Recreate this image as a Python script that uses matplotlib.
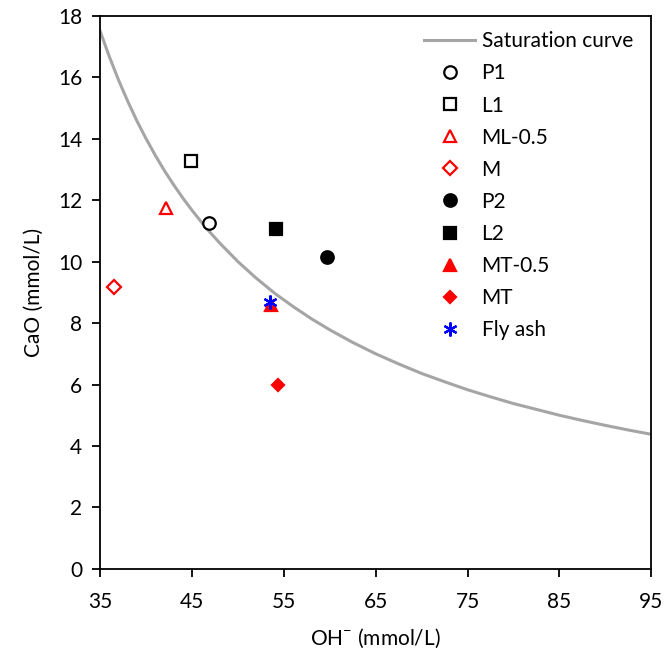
import matplotlib.pyplot as plt
import numpy as np

plt.rcParams['font.family'] = ['Lato', 'DejaVu Sans']

# saturation curve
curve_oh = [35, 36, 37, 38, 39, 40, 41, 42, 43, 44, 45, 46.5, 48, 50, 52,
            54, 56, 58, 60, 62.5, 65, 67.5, 70, 72.5, 75, 77.5, 80, 82.5,
            85, 87.5, 90, 92.5, 95]
curve_cao = [17.50, 16.67, 15.91, 15.22, 14.58, 14.00, 13.46, 12.96, 12.50,
             12.07, 11.67, 11.11, 10.61, 10.00, 9.46, 8.97, 8.54, 8.14,
             7.78, 7.37, 7.00, 6.67, 6.36, 6.09, 5.83, 5.60, 5.38, 5.19,
             5.00, 4.83, 4.67, 4.52, 4.38]

labels = ['P1', 'L1', 'ML-0.5', 'M', 'P2', 'L2', 'MT-0.5', 'MT', 'Fly ash']
oh = [46.8, 44.9, 42.2, 36.5, 59.7, 54.1, 53.6, 54.4, 53.5]
cao = [11.25, 13.28, 11.75, 9.18, 10.15, 11.05, 8.6, 6.0, 8.7]

styles = [
    dict(marker='o', mfc='white', mec='black', ms=9),
    dict(marker='s', mfc='white', mec='black', ms=9),
    dict(marker='^', mfc='white', mec='red', ms=9),
    dict(marker='D', mfc='white', mec='red', ms=7),
    dict(marker='o', mfc='black', mec='black', ms=9),
    dict(marker='s', mfc='black', mec='black', ms=9),
    dict(marker='^', mfc='red', mec='red', ms=9),
    dict(marker='D', mfc='red', mec='red', ms=6),
    dict(marker=(6, 2, 0), mfc='blue', mec='blue', ms=10),
]

fig = plt.figure(figsize=(6.68, 6.63), dpi=100)
ax = fig.add_axes([0.150, 0.142, 0.825, 0.834])

ax.plot(curve_oh, curve_cao, color='#A5A5A5', lw=2.2, label='Saturation curve')
for x, y, lab, st in zip(oh, cao, labels, styles):
    ax.plot([x], [y], ls='none', mew=1.6, label=lab, **st)

ax.set_xlim(35, 95)
ax.set_ylim(0, 18)
ax.set_xticks(np.arange(35, 96, 10))
ax.set_yticks(np.arange(0, 19, 2))
ax.tick_params(direction='out', length=6, width=1.3, labelsize=15)
ax.tick_params(axis='x', pad=11)
ax.tick_params(axis='y', pad=7)
for s in ax.spines.values():
    s.set_linewidth(1.3)

ax.set_xlabel('OH$^{\\mathregular{-}}$ (mmol/L)', fontsize=15, labelpad=10)
ax.set_ylabel('CaO (mmol/L)', fontsize=15, labelpad=10)

ax.legend(loc='upper left', frameon=False, fontsize=15, handlelength=2.45,
          handletextpad=0.3, labelspacing=0.58, bbox_to_anchor=(0.554, 1.006))

fig.savefig('out.png', dpi=100)
